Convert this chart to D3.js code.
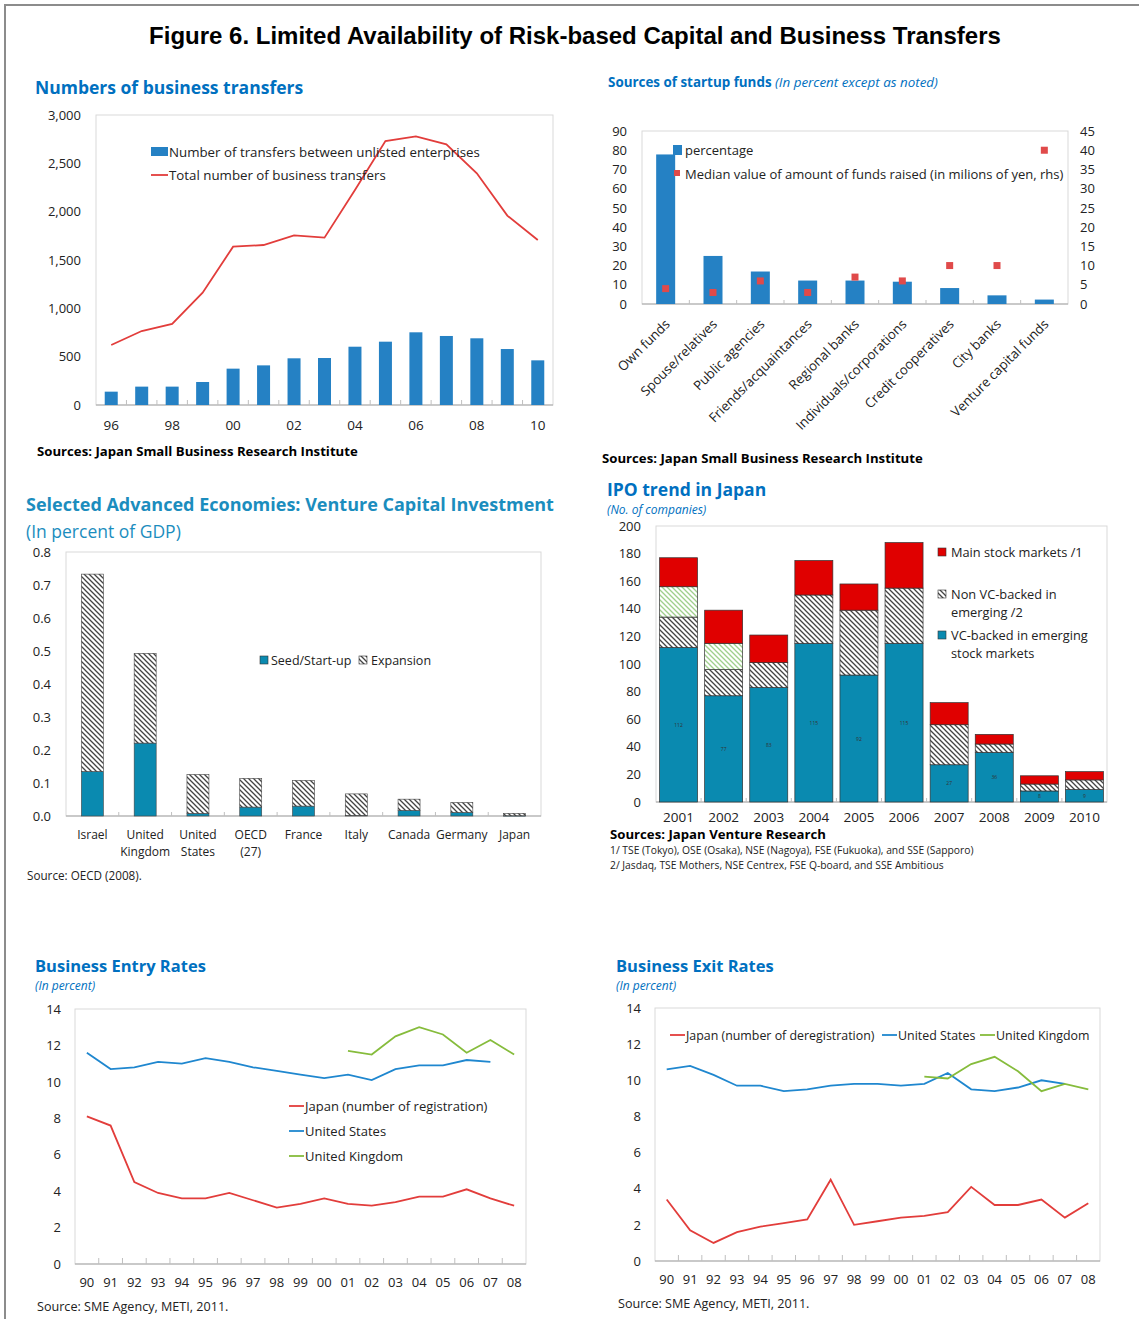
<!DOCTYPE html>
<html>
<head>
<meta charset="utf-8">
<script src="https://cdn.jsdelivr.net/npm/d3@7"></script>
<style>
  body { margin: 0; background: #fff; }
  svg { display: block; }
  text { font-family: 'Open Sans', 'Noto Sans', sans-serif; fill: #222; }
</style>
</head>
<body>
<div id="chart"></div>
<script>
// ---- data ----
// Numbers of business transfers
var transferYears = ["96","97","98","99","00","01","02","03","04","05","06","07","08","09","10"];
var transferUnlisted = [138,190,190,238,376,410,483,486,603,655,752,714,690,579,462];
var transferTotal = [621,765,838,1162,1638,1655,1755,1731,2224,2731,2779,2697,2397,1959,1707];
var transferTicks = [0,500,1000,1500,2000,2500,3000];

// Sources of startup funds
var fundSources = ["Own funds","Spouse/relatives","Public agencies","Friends/acquaintances","Regional banks",
  "Individuals/corporations","Credit cooperatives","City banks","Venture capital funds"];
var fundPercent = [77.8,25.0,16.9,12.2,12.2,11.6,8.3,4.5,2.3];
var fundMedian = [4,3,6,3,7,6,10,10,40];

// Venture capital investment (percent of GDP)
var vcCountries = ["Israel","United Kingdom","United States","OECD (27)","France","Italy","Canada","Germany","Japan"];
var vcLabelLines = [["Israel"],["United","Kingdom"],["United","States"],["OECD","(27)"],["France"],["Italy"],["Canada"],["Germany"],["Japan"]];
var vcSeed = [0.135,0.221,0.008,0.027,0.030,0.002,0.017,0.011,0.001];
var vcExpansion = [0.598,0.272,0.118,0.087,0.078,0.065,0.034,0.030,0.007];

// IPO trend in Japan
var ipoYears = ["2001","2002","2003","2004","2005","2006","2007","2008","2009","2010"];
var ipoVc = [112,77,83,115,92,115,27,36,8,9];
var ipoNonVc = [22,19,18,35,47,40,29,6,5,7];
var ipoNonVcOther = [22,19,0,0,0,0,0,0,0,0];
var ipoMain = [21,24,20,25,19,33,16,7,6,6];

// Business entry / exit rates
var rateYears = ["90","91","92","93","94","95","96","97","98","99","00","01","02","03","04","05","06","07","08"];
var entryJapan = [8.1,7.6,4.5,3.9,3.6,3.6,3.9,3.5,3.1,3.3,3.6,3.3,3.2,3.4,3.7,3.7,4.1,3.6,3.2];
var entryUS = [11.6,10.7,10.8,11.1,11.0,11.3,11.1,10.8,10.6,10.4,10.2,10.4,10.1,10.7,10.9,10.9,11.2,11.1,null];
var entryUK = [null,null,null,null,null,null,null,null,null,null,null,11.7,11.5,12.5,13.0,12.6,11.6,12.3,11.5];
var exitJapan = [3.4,1.7,1.0,1.6,1.9,2.1,2.3,4.5,2.0,2.2,2.4,2.5,2.7,4.1,3.1,3.1,3.4,2.4,3.2];
var exitUS = [10.6,10.8,10.3,9.7,9.7,9.4,9.5,9.7,9.8,9.8,9.7,9.8,10.4,9.5,9.4,9.6,10.0,9.8,null];
var exitUK = [null,null,null,null,null,null,null,null,null,null,null,10.2,10.1,10.9,11.3,10.5,9.4,9.8,9.5];

// colours
var blueBar = "#2581C4", redLine = "#E23D3B", teal = "#0A8AB0", ipoRed = "#E00000";
var lineBlue = "#1F87CF", lineGreen = "#86BC3C", headBlue = "#0070C0";

var svg = d3.select("#chart").append("svg")
  .attr("width", 1139)
  .attr("height", 1319);

svg.append("rect").attr("width", 1139).attr("height", 1319).attr("fill", "#fff");

// hatch patterns
var defs = svg.append("defs");
function hatch(id, color) {
  var p = defs.append("pattern").attr("id", id)
    .attr("patternUnits", "userSpaceOnUse").attr("width", 5).attr("height", 5);
  p.append("rect").attr("width", 5).attr("height", 5).attr("fill", "#fff");
  p.append("path").attr("d", "M0,0L5,5M-1,4L1,6M4,-1L6,1")
    .attr("stroke", color).attr("stroke-width", 1.3);
}
hatch("hatchBlack", "#444");
hatch("hatchGreen", "#9FCF8C");

// outer frame
svg.append("path").attr("d", "M5,1319V5H1139")
  .attr("fill", "none").attr("stroke", "#8c8c8c").attr("stroke-width", 2);

// main title
svg.append("text")
  .attr("x", 575).attr("y", 44)
  .attr("text-anchor", "middle")
  .style("font-family", "'Liberation Sans', Arial, sans-serif")
  .style("font-weight", "bold")
  .style("font-size", "24px")
  .style("fill", "#000")
  .text("Figure 6. Limited Availability of Risk-based Capital and Business Transfers");

// ---- helpers ----
function plotBox(x0, y0, x1, y1) {
  svg.append("rect")
    .attr("x", x0).attr("y", y0).attr("width", x1 - x0).attr("height", y1 - y0)
    .attr("fill", "none").attr("stroke", "#d9d9d9");
  svg.append("line")
    .attr("x1", x0).attr("x2", x1).attr("y1", y1).attr("y2", y1)
    .attr("stroke", "#a6a6a6");
}

function bandTicks(x, y1, len) {
  x.domain().forEach(function(d, i) {
    if (i === 0) return;
    var xx = x(d);
    svg.append("line").attr("x1", xx).attr("x2", xx).attr("y1", y1).attr("y2", y1 - len)
      .attr("stroke", "#bfbfbf");
  });
}

function leftLabels(y, ticks, xPos, fmt, size) {
  var g = svg.append("g").attr("transform", `translate(${xPos},0)`)
    .call(d3.axisLeft(y).tickValues(ticks).tickSize(0).tickPadding(0).tickFormat(fmt));
  g.select(".domain").remove();
  g.attr("font-family", null).attr("font-size", null);
  g.selectAll("text").style("font-size", size + "px").style("fill", "#222");
  return g;
}

function heading(x, y, txt, size, color) {
  return svg.append("text").attr("x", x).attr("y", y)
    .style("font-weight", "bold").style("font-size", size + "px").style("fill", color)
    .text(txt);
}

function sourceText(x, y, txt) {
  return svg.append("text").attr("x", x).attr("y", y)
    .style("font-size", "13.2px").style("font-weight", "bold").style("fill", "#000")
    .text(txt);
}

// ======================= Panel 1: business transfers =======================
(function() {
  var L = 96, R = 553, T = 115, B = 405;
  heading(35, 94, "Numbers of business transfers", 17.5, headBlue);

  var x = d3.scaleBand().domain(transferYears).range([L, R]);
  var y = d3.scaleLinear().domain([0, 3000]).range([B, T]);
  plotBox(L, T, R, B);
  bandTicks(x, B, 5);

  var bw = 13;
  svg.selectAll(".tbar").data(transferUnlisted).enter().append("rect")
    .attr("x", (d, i) => x(transferYears[i]) + x.bandwidth() / 2 - bw / 2)
    .attr("y", d => y(d))
    .attr("width", bw)
    .attr("height", d => B - y(d))
    .attr("fill", blueBar);

  var line = d3.line()
    .x((d, i) => x(transferYears[i]) + x.bandwidth() / 2)
    .y(d => y(d));
  svg.append("path").datum(transferTotal)
    .attr("d", line).attr("fill", "none").attr("stroke", redLine).attr("stroke-width", 1.8);

  leftLabels(y, transferTicks, 81, d3.format(","), 13);

  var xl = svg.append("g").attr("transform", `translate(0,${B})`)
    .call(d3.axisBottom(x).tickValues(transferYears.filter((d, i) => i % 2 === 0)).tickSize(0).tickPadding(15));
  xl.select(".domain").remove();
  xl.attr("font-family", null).attr("font-size", null);
  xl.selectAll("text").style("font-size", "13.5px");

  // legend
  svg.append("rect").attr("x", 151).attr("y", 147).attr("width", 17).attr("height", 9).attr("fill", blueBar);
  svg.append("text").attr("x", 169).attr("y", 157).style("font-size", "13.3px")
    .text("Number of transfers between unlisted enterprises");
  svg.append("line").attr("x1", 151).attr("x2", 168).attr("y1", 175).attr("y2", 175)
    .attr("stroke", redLine).attr("stroke-width", 1.8);
  svg.append("text").attr("x", 169).attr("y", 180).style("font-size", "13.3px")
    .text("Total number of business transfers");

  sourceText(37, 456, "Sources: Japan Small Business Research Institute");
})();

// ======================= Panel 2: startup funds =======================
(function() {
  var L = 642, R = 1068, T = 131, B = 304;
  var h = svg.append("text").attr("x", 608).attr("y", 87).style("font-size", "13.4px");
  h.append("tspan").style("font-weight", "bold").style("fill", headBlue).text("Sources of startup funds ");
  h.append("tspan").style("font-style", "italic").style("fill", headBlue).text("(In percent except as noted)");

  var x = d3.scaleBand().domain(fundSources).range([L, R]);
  var yL = d3.scaleLinear().domain([0, 90]).range([B, T]);
  var yR = d3.scaleLinear().domain([0, 45]).range([B, T]);
  plotBox(L, T, R, B);
  bandTicks(x, B, 4);

  var bw = 19;
  svg.selectAll(".fbar").data(fundPercent).enter().append("rect")
    .attr("x", (d, i) => x(fundSources[i]) + x.bandwidth() / 2 - bw / 2)
    .attr("y", d => yL(d))
    .attr("width", bw)
    .attr("height", d => B - yL(d))
    .attr("fill", blueBar);

  var sq = 7;
  svg.selectAll(".fdot").data(fundMedian).enter().append("rect")
    .attr("x", (d, i) => x(fundSources[i]) + x.bandwidth() / 2 - sq / 2)
    .attr("y", d => yR(d) - sq / 2)
    .attr("width", sq).attr("height", sq)
    .attr("fill", "#E04A4A");

  leftLabels(yL, d3.range(0, 91, 10), 627, d3.format("d"), 13);
  var gr = svg.append("g").attr("transform", `translate(1080,0)`)
    .call(d3.axisRight(yR).tickValues(d3.range(0, 46, 5)).tickSize(0).tickPadding(0));
  gr.select(".domain").remove();
  gr.attr("font-family", null).attr("font-size", null);
  gr.selectAll("text").style("font-size", "13px");

  svg.selectAll(".flab").data(fundSources).enter().append("text")
    .attr("transform", d => `translate(${x(d) + x.bandwidth() / 2 + 5},${B + 21}) rotate(-45)`)
    .attr("text-anchor", "end")
    .style("font-size", "13.2px")
    .text(d => d);

  // legend
  svg.append("rect").attr("x", 673).attr("y", 145).attr("width", 9).attr("height", 10).attr("fill", blueBar);
  svg.append("text").attr("x", 685).attr("y", 155).style("font-size", "13px").text("percentage");
  svg.append("rect").attr("x", 674).attr("y", 170).attr("width", 6).attr("height", 6).attr("fill", "#E04A4A");
  svg.append("text").attr("x", 685).attr("y", 179).style("font-size", "13px")
    .text("Median value of amount of funds raised (in milions of yen, rhs)");

  sourceText(602, 463, "Sources: Japan Small Business Research Institute");
})();

// ======================= Panel 3: venture capital =======================
(function() {
  var L = 66, R = 541, T = 552, B = 816;
  var c3 = "#1B8DBE";
  heading(26, 511, "Selected Advanced Economies: Venture Capital Investment", 18, c3);
  svg.append("text").attr("x", 26).attr("y", 538).style("font-size", "17.5px").style("fill", c3)
    .text("(In percent of GDP)");

  var x = d3.scaleBand().domain(vcCountries).range([L, R]);
  var y = d3.scaleLinear().domain([0, 0.8]).range([B, T]);
  plotBox(L, T, R, B);
  bandTicks(x, B, 4);

  var rows = vcCountries.map((c, i) => ({ country: c, seed: vcSeed[i], expansion: vcExpansion[i] }));
  var stack = d3.stack().keys(["seed", "expansion"])(rows);
  var fills = { seed: teal, expansion: "url(#hatchBlack)" };
  var bw = 22;
  stack.forEach(function(layer) {
    svg.selectAll(".vc-" + layer.key).data(layer).enter().append("rect")
      .attr("x", d => x(d.data.country) + x.bandwidth() / 2 - bw / 2)
      .attr("y", d => y(d[1]))
      .attr("width", bw)
      .attr("height", d => Math.max(0.5, y(d[0]) - y(d[1])))
      .attr("fill", fills[layer.key])
      .attr("stroke", "#444").attr("stroke-width", 0.6);
  });

  leftLabels(y, d3.range(0, 0.81, 0.1), 51, d3.format(".1f"), 13);

  vcLabelLines.forEach(function(lines, i) {
    var t = svg.append("text")
      .attr("x", x(vcCountries[i]) + x.bandwidth() / 2)
      .attr("y", 839)
      .attr("text-anchor", "middle")
      .style("font-size", "12px");
    lines.forEach(function(s, j) {
      t.append("tspan").attr("x", x(vcCountries[i]) + x.bandwidth() / 2).attr("dy", j ? 17 : 0).text(s);
    });
  });

  // legend
  svg.append("rect").attr("x", 260).attr("y", 656).attr("width", 8).attr("height", 8)
    .attr("fill", teal).attr("stroke", "#333").attr("stroke-width", 0.6);
  svg.append("text").attr("x", 271).attr("y", 665).style("font-size", "12.5px").text("Seed/Start-up");
  svg.append("rect").attr("x", 359).attr("y", 656).attr("width", 8).attr("height", 8)
    .attr("fill", "url(#hatchBlack)").attr("stroke", "#333").attr("stroke-width", 0.6);
  svg.append("text").attr("x", 371).attr("y", 665).style("font-size", "12.5px").text("Expansion");

  svg.append("text").attr("x", 27).attr("y", 880).style("font-size", "11.7px").text("Source: OECD (2008).");
})();

// ======================= Panel 4: IPO trend =======================
(function() {
  var L = 656, R = 1107, T = 526, B = 802;
  heading(607, 496, "IPO trend in Japan", 17.5, headBlue);
  svg.append("text").attr("x", 607).attr("y", 514).style("font-size", "12px")
    .style("font-style", "italic").style("fill", headBlue).text("(No. of companies)");

  var x = d3.scaleBand().domain(ipoYears).range([L, R]);
  var y = d3.scaleLinear().domain([0, 200]).range([B, T]);
  plotBox(L, T, R, B);
  bandTicks(x, B, 4);

  var rows = ipoYears.map((yr, i) => ({ year: yr, vc: ipoVc[i], nonvc: ipoNonVc[i], other: ipoNonVcOther[i], main: ipoMain[i] }));
  var stack = d3.stack().keys(["vc", "nonvc", "other", "main"])(rows);
  var fills = { vc: teal, nonvc: "url(#hatchBlack)", other: "url(#hatchGreen)", main: ipoRed };
  var bw = 38;
  stack.forEach(function(layer) {
    svg.selectAll(".ipo-" + layer.key).data(layer.filter(d => d[1] > d[0])).enter().append("rect")
      .attr("x", d => x(d.data.year) + x.bandwidth() / 2 - bw / 2)
      .attr("y", d => y(d[1]))
      .attr("width", bw)
      .attr("height", d => y(d[0]) - y(d[1]))
      .attr("fill", fills[layer.key])
      .attr("stroke", "#333").attr("stroke-width", 0.7);
  });

  // tiny value labels in VC segments
  svg.selectAll(".ipo-lab").data(rows).enter().append("text")
    .attr("x", d => x(d.year) + x.bandwidth() / 2)
    .attr("y", d => y(d.vc / 2) + 2)
    .attr("text-anchor", "middle")
    .style("font-size", "5px").style("fill", "#333")
    .text(d => d.vc);

  leftLabels(y, d3.range(0, 201, 20), 641, d3.format("d"), 13);

  var xl = svg.append("g").attr("transform", `translate(0,${B})`)
    .call(d3.axisBottom(x).tickSize(0).tickPadding(10));
  xl.select(".domain").remove();
  xl.attr("font-family", null).attr("font-size", null);
  xl.selectAll("text").style("font-size", "13.5px");

  // legend
  var lg = [
    { y: 548, fill: ipoRed, lines: ["Main stock markets /1"] },
    { y: 590, fill: "url(#hatchBlack)", lines: ["Non VC-backed in", "emerging /2"] },
    { y: 631, fill: teal, lines: ["VC-backed in emerging", "stock markets"] }
  ];
  lg.forEach(function(d) {
    svg.append("rect").attr("x", 938).attr("y", d.y).attr("width", 8).attr("height", 8)
      .attr("fill", d.fill).attr("stroke", "#333").attr("stroke-width", 0.6);
    var t = svg.append("text").attr("x", 951).attr("y", d.y + 9).style("font-size", "12.8px");
    d.lines.forEach(function(s, j) {
      t.append("tspan").attr("x", 951).attr("dy", j ? 18 : 0).text(s);
    });
  });

  svg.append("text").attr("x", 610).attr("y", 839)
    .style("font-size", "13.2px").style("font-weight", "bold").style("fill", "#000")
    .text("Sources: Japan Venture Research");
  svg.append("text").attr("x", 610).attr("y", 854).style("font-size", "10.3px")
    .text("1/ TSE (Tokyo), OSE (Osaka), NSE (Nagoya), FSE (Fukuoka), and SSE (Sapporo)");
  svg.append("text").attr("x", 610).attr("y", 869).style("font-size", "10.3px")
    .text("2/ Jasdaq, TSE Mothers, NSE Centrex, FSE Q-board, and SSE Ambitious");
})();

// ======================= Panels 5 & 6: entry / exit rates =======================
function ratePanel(o) {
  heading(o.hx, 972, o.title, 16.5, headBlue);
  svg.append("text").attr("x", o.hx).attr("y", 990).style("font-size", "12px")
    .style("font-style", "italic").style("fill", headBlue).text("(In percent)");

  var x = d3.scaleBand().domain(rateYears).range([o.L, o.R]);
  var y = d3.scaleLinear().domain([0, 14]).range([o.B, o.T]);
  plotBox(o.L, o.T, o.R, o.B);
  bandTicks(x, o.B, 6);

  var line = d3.line()
    .defined(d => d != null)
    .x((d, i) => x(rateYears[i]) + x.bandwidth() / 2)
    .y(d => y(d));
  o.series.forEach(function(s) {
    svg.append("path").datum(s.values)
      .attr("d", line).attr("fill", "none").attr("stroke", s.color).attr("stroke-width", 1.8);
  });

  leftLabels(y, d3.range(0, 15, 2), o.L - 14, d3.format("d"), 13);

  var xl = svg.append("g").attr("transform", `translate(0,${o.B})`)
    .call(d3.axisBottom(x).tickSize(0).tickPadding(14));
  xl.select(".domain").remove();
  xl.attr("font-family", null).attr("font-size", null);
  xl.selectAll("text").style("font-size", "13px");

  o.legend.forEach(function(d, i) {
    svg.append("line").attr("x1", d.x).attr("x2", d.x + 15).attr("y1", d.y).attr("y2", d.y)
      .attr("stroke", o.series[i].color).attr("stroke-width", 1.8);
    svg.append("text").attr("x", d.x + 16).attr("y", d.y + 5).style("font-size", o.legendSize + "px")
      .text(o.series[i].name);
  });

  svg.append("text").attr("x", o.hx + 2).attr("y", o.srcY).style("font-size", "12.6px")
    .text("Source: SME Agency, METI, 2011.");
}

ratePanel({
  title: "Business Entry Rates", hx: 35, L: 75, R: 526, T: 1009, B: 1264, srcY: 1311, legendSize: 13,
  series: [
    { name: "Japan (number of registration)", color: redLine, values: entryJapan },
    { name: "United States", color: lineBlue, values: entryUS },
    { name: "United Kingdom", color: lineGreen, values: entryUK }
  ],
  legend: [{ x: 289, y: 1106 }, { x: 289, y: 1131 }, { x: 289, y: 1156 }]
});

ratePanel({
  title: "Business Exit Rates", hx: 616, L: 655, R: 1100, T: 1008, B: 1261, srcY: 1308, legendSize: 12.4,
  series: [
    { name: "Japan (number of deregistration)", color: redLine, values: exitJapan },
    { name: "United States", color: lineBlue, values: exitUS },
    { name: "United Kingdom", color: lineGreen, values: exitUK }
  ],
  legend: [{ x: 670, y: 1035 }, { x: 882, y: 1035 }, { x: 980, y: 1035 }]
});
</script>
</body>
</html>
